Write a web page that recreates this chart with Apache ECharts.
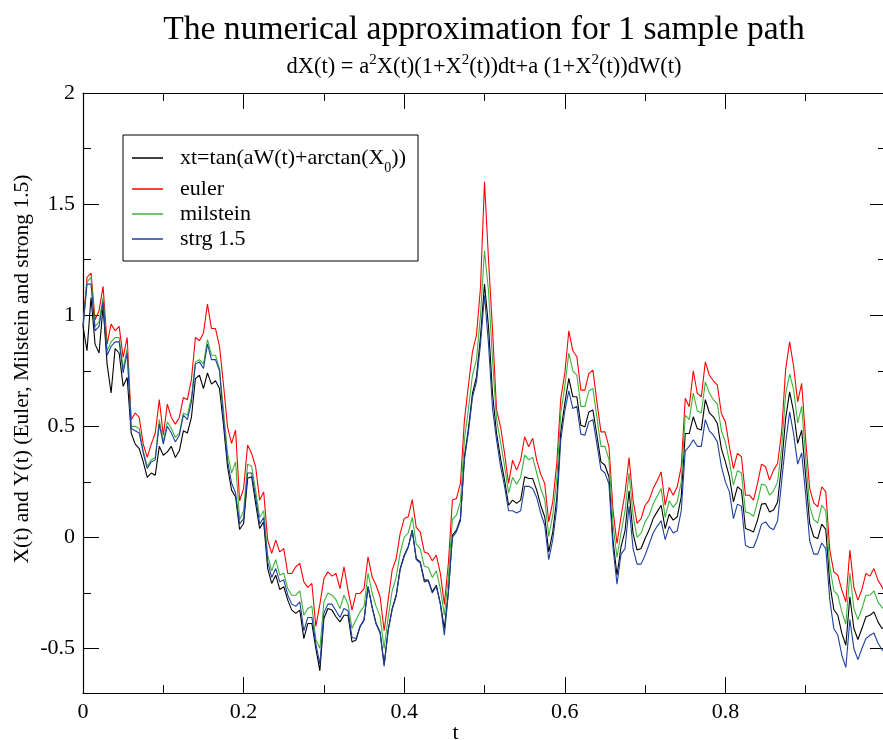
<!DOCTYPE html>
<html>
<head>
<meta charset="utf-8">
<script src="https://cdn.jsdelivr.net/npm/echarts@6/dist/echarts.min.js"></script>
<style>
  html, body { margin: 0; padding: 0; overflow: hidden; background: #fff; }
  #chart { width: 883px; height: 740px; }
</style>
</head>
<body>
<div id="chart"></div>
<script>
// Sample path on [0, 1], step dt
const dt = 0.005;

const exactPath = [
  0.95, 0.84, 1.08, 0.87, 0.83, 1.04, 0.78, 0.65, 0.85, 0.83,
  0.68, 0.72, 0.47, 0.42, 0.40, 0.34, 0.27, 0.29, 0.28, 0.41,
  0.37, 0.385, 0.41, 0.36, 0.39, 0.48, 0.47, 0.54, 0.715, 0.73,
  0.67, 0.74, 0.69, 0.705, 0.67, 0.505, 0.318, 0.213, 0.183, 0.036,
  0.063, 0.266, 0.273, 0.153, 0.04, 0.07, -0.14, -0.207, -0.17, -0.234,
  -0.222, -0.282, -0.327, -0.342, -0.327, -0.455, -0.387, -0.387, -0.50, -0.60,
  -0.365, -0.32, -0.327, -0.357, -0.38, -0.35, -0.35, -0.47, -0.462, -0.402,
  -0.372, -0.222, -0.312, -0.387, -0.425, -0.57, -0.417, -0.32, -0.26, -0.14,
  -0.08, -0.042, 0.033, -0.095, -0.11, -0.192, -0.192, -0.245, -0.215, -0.297,
  -0.41, -0.245, 0.01, 0.033, 0.085, 0.363, 0.49, 0.648, 0.723, 0.903,
  1.14, 0.948, 0.648, 0.468, 0.355, 0.258, 0.145, 0.168, 0.153, 0.168,
  0.273, 0.265, 0.265, 0.213, 0.145, 0.093, -0.065, 0.025, 0.175, 0.475,
  0.603, 0.716, 0.633, 0.633, 0.505, 0.498, 0.565, 0.573, 0.46, 0.34,
  0.325, 0.273, -0.012, -0.17, -0.042, 0.03, 0.21, 0.018, -0.057, -0.05,
  -0.005, 0.033, 0.085, 0.115, 0.145, 0.04, 0.105, 0.078, 0.093, 0.183,
  0.468, 0.468, 0.543, 0.49, 0.483, 0.62, 0.561, 0.543, 0.513, 0.40,
  0.34, 0.273, 0.16, 0.228, 0.213, 0.04, 0.033, 0.025, 0.078, 0.15,
  0.153, 0.115, 0.123, 0.16, 0.325, 0.535, 0.655, 0.565, 0.423, 0.483,
  0.273, 0.063, 0.003, -0.005, 0.06, 0.036, -0.207, -0.324, -0.35, -0.432,
  -0.485, -0.267, -0.41, -0.459, -0.41, -0.357, -0.35, -0.335, -0.38, -0.41,
  -0.40
];

const eulerPath = [
  0.95, 1.17, 1.19, 0.98, 1.02, 1.13, 0.87, 0.96, 0.93, 0.95,
  0.81, 0.90, 0.53, 0.56, 0.54, 0.42, 0.36, 0.42, 0.47, 0.62,
  0.46, 0.60, 0.54, 0.51, 0.54, 0.63, 0.62, 0.71, 0.90, 0.885,
  0.92, 1.05, 0.94, 0.94, 0.86, 0.686, 0.498, 0.423, 0.483, 0.165,
  0.22, 0.416, 0.378, 0.318, 0.168, 0.205, -0.012, -0.072, -0.012, -0.065,
  -0.05, -0.162, -0.162, -0.132, -0.117, -0.20, -0.225, -0.207, -0.40, -0.30,
  -0.185, -0.155, -0.174, -0.162, -0.23, -0.132, -0.237, -0.327, -0.252, -0.252,
  -0.23, -0.087, -0.177, -0.215, -0.267, -0.42, -0.282, -0.147, -0.095, 0.018,
  0.085, 0.093, 0.17, 0.045, 0.025, -0.065, -0.072, -0.105, -0.08, -0.162,
  -0.30, -0.117, 0.168, 0.175, 0.243, 0.528, 0.685, 0.835, 0.91, 1.125,
  1.60, 1.25, 0.933, 0.573, 0.498, 0.378, 0.243, 0.348, 0.303, 0.348,
  0.453, 0.408, 0.446, 0.348, 0.285, 0.243, 0.07, 0.16, 0.333, 0.626,
  0.738, 0.93, 0.84, 0.813, 0.663, 0.663, 0.738, 0.753, 0.61, 0.475,
  0.475, 0.408, 0.123, -0.027, 0.093, 0.20, 0.36, 0.168, 0.063, 0.085,
  0.145, 0.168, 0.22, 0.255, 0.295, 0.145, 0.225, 0.19, 0.228, 0.318,
  0.626, 0.588, 0.75, 0.648, 0.633, 0.79, 0.73, 0.705, 0.685, 0.558,
  0.52, 0.408, 0.31, 0.378, 0.363, 0.19, 0.19, 0.168, 0.243, 0.33,
  0.318, 0.258, 0.303, 0.333, 0.475, 0.756, 0.88, 0.768, 0.61, 0.693,
  0.438, 0.22, 0.156, 0.138, 0.228, 0.205, -0.057, -0.155, -0.17, -0.237,
  -0.29, -0.057, -0.225, -0.282, -0.234, -0.162, -0.174, -0.14, -0.192, -0.222,
  -0.26
];

const milsteinPath = [
  0.95, 1.15, 1.17, 0.95, 0.97, 1.08, 0.84, 0.88, 0.90, 0.90,
  0.76, 0.85, 0.50, 0.50, 0.49, 0.39, 0.32, 0.35, 0.36, 0.53,
  0.43, 0.52, 0.49, 0.45, 0.47, 0.56, 0.55, 0.63, 0.79, 0.80,
  0.78, 0.89, 0.82, 0.82, 0.76, 0.57, 0.38, 0.29, 0.34, 0.08,
  0.12, 0.33, 0.32, 0.21, 0.09, 0.12, -0.08, -0.15, -0.10, -0.17,
  -0.16, -0.23, -0.26, -0.26, -0.24, -0.35, -0.32, -0.31, -0.46, -0.50,
  -0.29, -0.25, -0.26, -0.28, -0.32, -0.26, -0.30, -0.41, -0.37, -0.335,
  -0.31, -0.16, -0.25, -0.31, -0.355, -0.50, -0.36, -0.24, -0.18, -0.07,
  0.0, 0.02, 0.09, -0.03, -0.05, -0.13, -0.135, -0.18, -0.15, -0.23,
  -0.35, -0.18, 0.08, 0.10, 0.16, 0.44, 0.58, 0.73, 0.80, 1.00,
  1.29, 1.11, 0.80, 0.53, 0.43, 0.32, 0.20, 0.27, 0.24, 0.27,
  0.37, 0.35, 0.36, 0.29, 0.22, 0.17, 0.005, 0.10, 0.26, 0.56,
  0.68, 0.83, 0.75, 0.73, 0.59, 0.59, 0.66, 0.67, 0.54, 0.41,
  0.41, 0.35, 0.06, -0.09, 0.02, 0.12, 0.29, 0.10, 0.0, 0.02,
  0.07, 0.10, 0.15, 0.185, 0.22, 0.09, 0.165, 0.135, 0.16, 0.25,
  0.55, 0.53, 0.65, 0.57, 0.56, 0.70, 0.65, 0.62, 0.60, 0.48,
  0.43, 0.34, 0.235, 0.30, 0.29, 0.115, 0.11, 0.095, 0.16, 0.24,
  0.235, 0.19, 0.21, 0.25, 0.40, 0.645, 0.735, 0.665, 0.515, 0.59,
  0.355, 0.14, 0.08, 0.065, 0.145, 0.12, -0.13, -0.24, -0.26, -0.335,
  -0.39, -0.16, -0.32, -0.37, -0.32, -0.26, -0.26, -0.24, -0.29, -0.315,
  -0.33
];

const strongPath = [
  0.95, 1.14, 1.14, 0.93, 0.95, 1.06, 0.82, 0.86, 0.88, 0.88,
  0.74, 0.83, 0.49, 0.48, 0.47, 0.38, 0.31, 0.34, 0.35, 0.51,
  0.42, 0.50, 0.47, 0.43, 0.46, 0.55, 0.53, 0.61, 0.78, 0.79,
  0.76, 0.87, 0.80, 0.80, 0.75, 0.53, 0.345, 0.245, 0.20, 0.06,
  0.085, 0.29, 0.29, 0.18, 0.06, 0.09, -0.11, -0.18, -0.14, -0.20,
  -0.19, -0.26, -0.30, -0.31, -0.29, -0.42, -0.36, -0.36, -0.48, -0.57,
  -0.34, -0.30, -0.30, -0.33, -0.36, -0.32, -0.33, -0.45, -0.455, -0.40,
  -0.37, -0.22, -0.315, -0.39, -0.43, -0.58, -0.42, -0.325, -0.265, -0.145,
  -0.085, -0.045, 0.03, -0.10, -0.115, -0.20, -0.195, -0.25, -0.22, -0.30,
  -0.44, -0.25, 0.0, 0.025, 0.075, 0.35, 0.475, 0.63, 0.70, 0.87,
  1.09, 0.87, 0.58, 0.44, 0.32, 0.23, 0.12, 0.12, 0.11, 0.12,
  0.23, 0.23, 0.22, 0.18, 0.11, 0.055, -0.10, -0.01, 0.135, 0.44,
  0.57, 0.66, 0.58, 0.59, 0.465, 0.46, 0.52, 0.53, 0.42, 0.305,
  0.29, 0.24, -0.045, -0.21, -0.075, -0.05, 0.14, -0.05, -0.12, -0.12,
  -0.08, -0.03, 0.02, 0.05, 0.075, -0.01, 0.05, 0.02, 0.03, 0.12,
  0.39, 0.41, 0.44, 0.41, 0.41, 0.53, 0.48, 0.46, 0.43, 0.32,
  0.25, 0.205, 0.085, 0.15, 0.14, -0.035, -0.045, -0.045, 0.0, 0.06,
  0.07, 0.045, 0.035, 0.075, 0.25, 0.425, 0.565, 0.465, 0.33, 0.38,
  0.19, -0.015, -0.075, -0.075, -0.025, -0.05, -0.28, -0.41, -0.44, -0.53,
  -0.585, -0.37, -0.50, -0.55, -0.50, -0.455, -0.44, -0.43, -0.475, -0.505,
  -0.52
];

const seriesNames = ['xt=tan(aW(t)+arctan(X0))', 'euler', 'milstein', 'strg 1.5'];
const seriesColors = ['#000000', '#ff0000', '#3cb33c', '#1f3f9f'];
const yMajorTicks = [-0.5, 0, 0.5, 1, 1.5, 2];
const yMinorTicks = [-0.25, 0.25, 0.75, 1.25, 1.75];

const FONT = "'Liberation Serif', 'DejaVu Serif', serif";

function toPoints(values) {
  return values.map((v, i) => [i * dt, v]);
}

const paths = [exactPath, eulerPath, milsteinPath, strongPath];

const chart = echarts.init(document.getElementById('chart'), null, { renderer: 'canvas' });

const tickStyle = { color: '#000', width: 1 };

function xAxisDef(position, showLabels) {
  return {
    type: 'value',
    position: position,
    min: 0,
    max: 1,
    interval: 0.2,
    axisLine: { show: true, onZero: false, lineStyle: { color: '#000', width: 1.2 } },
    axisTick: { show: true, inside: true, length: 16, lineStyle: tickStyle },
    minorTick: { show: true, splitNumber: 2, length: 8, lineStyle: tickStyle },
    splitLine: { show: false },
    minorSplitLine: { show: false },
    axisLabel: {
      show: showLabels,
      showMaxLabel: false,
      margin: 8,
      fontFamily: FONT,
      fontSize: 22,
      color: '#000'
    }
  };
}

function yAxisDef(position, ticks, tickLen, showLine, showLabels) {
  return {
    type: 'value',
    position: position,
    min: -0.7,
    max: 2,
    axisLine: { show: showLine, onZero: false, lineStyle: { color: '#000', width: 1.2 } },
    axisTick: { show: true, inside: true, length: tickLen, customValues: ticks, lineStyle: tickStyle },
    splitLine: { show: false },
    axisLabel: {
      show: showLabels,
      customValues: ticks,
      margin: 8,
      fontFamily: FONT,
      fontSize: 22,
      color: '#000'
    }
  };
}

const xBottom = xAxisDef('bottom', true);
xBottom.name = 't';
xBottom.nameLocation = 'middle';
xBottom.nameGap = 29;
xBottom.nameMoveOverlap = false;
xBottom.nameTextStyle = { fontFamily: FONT, fontSize: 22, color: '#000', padding: [0, 58, 0, 0] };

const yLeft = yAxisDef('left', yMajorTicks, 16, true, true);
yLeft.name = 'X(t) and Y(t) (Euler, Milstein and strong 1.5)';
yLeft.nameLocation = 'middle';
yLeft.nameGap = 50;
yLeft.nameMoveOverlap = false;
yLeft.nameTextStyle = { fontFamily: FONT, fontSize: 21.5, color: '#000', padding: [0, 0, 0, 48] };

const option = {
  animation: false,
  backgroundColor: '#fff',
  title: [
    {
      text: 'The numerical approximation for 1 sample path',
      left: 484,
      top: 13,
      padding: 0,
      textAlign: 'center',
      textVerticalAlign: 'top',
      textStyle: { fontFamily: FONT, fontSize: 33.6, fontWeight: 'normal', color: '#000' }
    },
    {
      text: '{n|dX(t) = a}{s|2}{n|X(t)(1+X}{s|2}{n|(t))dt+a (1+X}{s|2}{n|(t))dW(t)}',
      left: 484,
      top: 53,
      padding: 0,
      textAlign: 'center',
      textVerticalAlign: 'top',
      textStyle: {
        fontFamily: FONT, fontSize: 22.5, fontWeight: 'normal', color: '#000',
        rich: {
          n: { fontFamily: FONT, fontSize: 22.5, color: '#000' },
          s: { fontFamily: FONT, fontSize: 15, color: '#000', padding: [0, 0, 14, 0] }
        }
      }
    }
  ],
  legend: {
    data: seriesNames,
    orient: 'vertical',
    left: 123,
    top: 135,
    padding: [12, 12, 11, 9],
    itemGap: 3,
    itemWidth: 31,
    itemHeight: 1.5,
    icon: 'rect',
    selectedMode: false,
    borderColor: '#000',
    borderWidth: 1,
    borderRadius: 0,
    backgroundColor: '#fff',
    textStyle: {
      fontFamily: FONT,
      fontSize: 22,
      color: '#000',
      padding: [0, 0, 0, 12],
      rich: {
        sub: { fontFamily: FONT, fontSize: 14, color: '#000', padding: [20, 0, 0, 0] }
      }
    },
    formatter: function (name) {
      return name === seriesNames[0] ? 'xt=tan(aW(t)+arctan(X{sub|0}))' : name;
    }
  },
  grid: {
    left: 83, top: 93, width: 803, height: 600,
    containLabel: false,
    outerBoundsMode: 'none'
  },
  xAxis: [xBottom, xAxisDef('top', false)],
  yAxis: [
    yLeft,
    yAxisDef('right', yMajorTicks, 16, true, false),
    yAxisDef('left', yMinorTicks, 8, false, false),
    yAxisDef('right', yMinorTicks, 8, false, false)
  ],
  series: paths.map((values, i) => ({
    name: seriesNames[i],
    type: 'line',
    xAxisIndex: 0,
    yAxisIndex: 0,
    data: toPoints(values),
    showSymbol: false,
    symbol: 'none',
    lineStyle: { color: seriesColors[i], width: 1.1 },
    itemStyle: { color: seriesColors[i] },
    emphasis: { disabled: true },
    z: 2 + i
  }))
};

chart.setOption(option);
</script>
</body>
</html>
